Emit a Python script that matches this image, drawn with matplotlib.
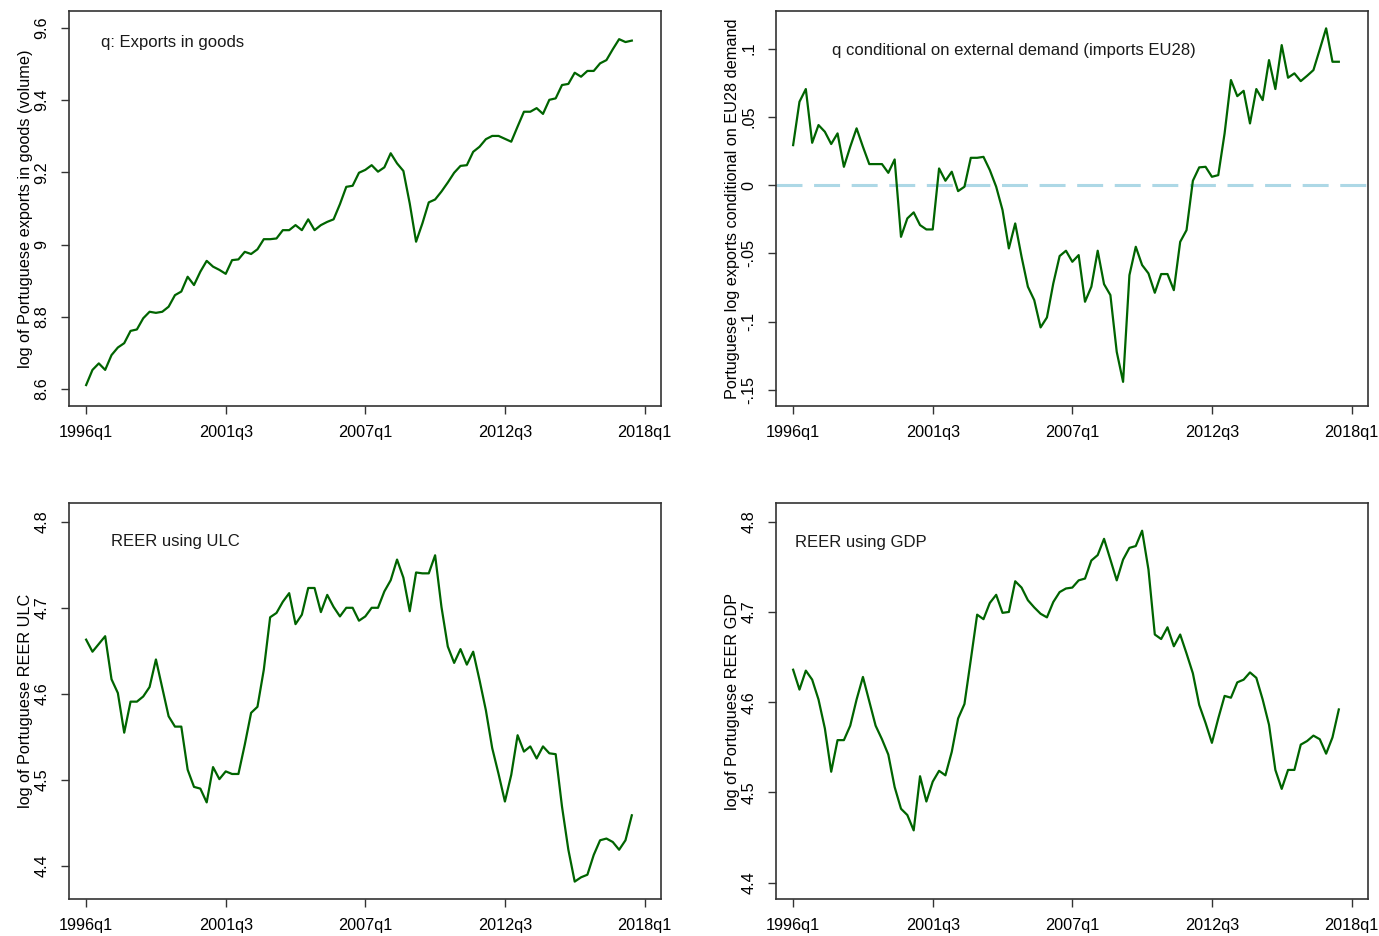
import numpy as np
import matplotlib
matplotlib.use("Agg")
import matplotlib.pyplot as plt
from matplotlib.ticker import FixedLocator, FuncFormatter

plt.rcParams["font.family"] = ["Liberation Sans", "DejaVu Sans"]

# ---- data: quarterly, 1996q1 .. 2017q3 ----
start_quarter = "1996q1"
xtick_labels = ["1996q1", "2001q3", "2007q1", "2012q3", "2018q1"]

exports_goods = [
    8.611, 8.653, 8.671, 8.653, 8.694, 8.715, 8.727, 8.761, 8.765, 8.796,
    8.814, 8.811, 8.814, 8.828, 8.860, 8.870, 8.911, 8.888, 8.925, 8.955,
    8.939, 8.930, 8.919, 8.957, 8.959, 8.980, 8.974, 8.987, 9.015, 9.015,
    9.017, 9.040, 9.040, 9.054, 9.040, 9.070, 9.040, 9.054, 9.063, 9.070,
    9.112, 9.160, 9.163, 9.199, 9.207, 9.220, 9.202, 9.214, 9.253, 9.225,
    9.204, 9.114, 9.008, 9.059, 9.117, 9.125, 9.147, 9.172, 9.199, 9.218,
    9.220, 9.257, 9.271, 9.292, 9.301, 9.301, 9.293, 9.285, 9.327, 9.368,
    9.368, 9.378, 9.362, 9.401, 9.405, 9.442, 9.445, 9.476, 9.465, 9.481,
    9.481, 9.502, 9.511, 9.541, 9.569, 9.561, 9.565,
]

exports_conditional = [
    0.0293, 0.0611, 0.0704, 0.0310, 0.0440, 0.0391, 0.0301, 0.0379, 0.0134, 0.0281,
    0.0416, 0.0281, 0.0154, 0.0154, 0.0154, 0.0090, 0.0188, -0.0379, -0.0244, -0.0200,
    -0.0293, -0.0325, -0.0325, 0.0122, 0.0032, 0.0098, -0.0044, -0.0012, 0.0200, 0.0200,
    0.0207, 0.0110, -0.0012, -0.0183, -0.0464, -0.0281, -0.0525, -0.0745, -0.0843, -0.1043,
    -0.0970, -0.0721, -0.0520, -0.0481, -0.0562, -0.0513, -0.0855, -0.0745, -0.0481, -0.0726,
    -0.0806, -0.1222, -0.1442, -0.0660, -0.0452, -0.0586, -0.0647, -0.0789, -0.0652, -0.0652,
    -0.0770, -0.0416, -0.0330, 0.0032, 0.0130, 0.0134, 0.0061, 0.0073, 0.0379, 0.0770,
    0.0652, 0.0691, 0.0452, 0.0704, 0.0623, 0.0916, 0.0704, 0.1026, 0.0787, 0.0819,
    0.0762, 0.0801, 0.0843, 0.0995, 0.1149, 0.0904, 0.0904,
]

reer_ulc = [
    4.663, 4.649, 4.658, 4.667, 4.617, 4.601, 4.555, 4.591, 4.591, 4.597,
    4.608, 4.640, 4.607, 4.574, 4.562, 4.562, 4.512, 4.492, 4.490, 4.474,
    4.515, 4.501, 4.510, 4.507, 4.507, 4.541, 4.578, 4.585, 4.628, 4.689,
    4.694, 4.707, 4.717, 4.681, 4.692, 4.723, 4.723, 4.695, 4.715, 4.701,
    4.690, 4.700, 4.700, 4.685, 4.690, 4.700, 4.700, 4.719, 4.732, 4.756,
    4.735, 4.696, 4.741, 4.740, 4.740, 4.761, 4.701, 4.655, 4.636, 4.652,
    4.634, 4.649, 4.616, 4.581, 4.537, 4.507, 4.475, 4.506, 4.552, 4.533,
    4.539, 4.525, 4.539, 4.531, 4.530, 4.469, 4.419, 4.382, 4.387, 4.390,
    4.413, 4.430, 4.432, 4.428, 4.419, 4.430, 4.459,
]

reer_gdp = [
    4.636, 4.614, 4.635, 4.625, 4.603, 4.571, 4.523, 4.558, 4.558, 4.574,
    4.603, 4.628, 4.601, 4.574, 4.559, 4.542, 4.506, 4.482, 4.475, 4.458,
    4.518, 4.490, 4.512, 4.524, 4.519, 4.545, 4.582, 4.598, 4.647, 4.697,
    4.692, 4.710, 4.719, 4.699, 4.700, 4.734, 4.727, 4.713, 4.705, 4.698,
    4.694, 4.711, 4.722, 4.726, 4.727, 4.735, 4.737, 4.757, 4.763, 4.781,
    4.758, 4.735, 4.758, 4.771, 4.773, 4.790, 4.747, 4.675, 4.670, 4.683,
    4.662, 4.675, 4.654, 4.632, 4.597, 4.577, 4.555, 4.582, 4.607, 4.605,
    4.622, 4.625, 4.633, 4.627, 4.603, 4.575, 4.525, 4.504, 4.525, 4.525,
    4.553, 4.557, 4.563, 4.559, 4.543, 4.561, 4.592,
]

ticks_exports = [8.6, 8.8, 9.0, 9.2, 9.4, 9.6]
ticks_conditional = [-0.15, -0.1, -0.05, 0.0, 0.05, 0.1]
ticks_reer = [4.4, 4.5, 4.6, 4.7, 4.8]


def quarter_number(label):
    year, q = label.split("q")
    return int(year) * 4 + int(q) - 1


def stata_number(v, _pos=None):
    s = f"{v:g}"
    if s.startswith("0.") and len(s) > 2:
        s = s[1:]
    elif s.startswith("-0."):
        s = "-" + s[2:]
    if s == "-0":
        s = "0"
    return s


base = quarter_number(start_quarter)
xtick_pos = [quarter_number(lbl) - base for lbl in xtick_labels]

W, H = 1379, 936
fig = plt.figure(figsize=(W / 100, H / 100), dpi=100)


def px_axes(left, top, right, bottom):
    return fig.add_axes([left / W, 1 - bottom / H, (right - left) / W, (bottom - top) / H])


LINE = "#006400"
FS = 11.7

panels = [
    dict(box=(69, 11, 661, 406), y=exports_goods, ylim=(8.553, 9.647), yticks=ticks_exports,
         ylabel="log of Portuguese exports in goods (volume)",
         note="q: Exports in goods", note_xy=(0.054, 0.919), zero=False),
    dict(box=(776, 11, 1368, 406), y=exports_conditional, ylim=(-0.1619, 0.1276), yticks=ticks_conditional,
         ylabel="Portuguese log exports conditional on EU28 demand",
         note="q conditional on external demand (imports EU28)", note_xy=(0.094, 0.901), zero=True),
    dict(box=(69, 503, 661, 899), y=reer_ulc, ylim=(4.3618, 4.8217), yticks=ticks_reer,
         ylabel="log of Portuguese REER ULC",
         note="REER using ULC", note_xy=(0.071, 0.904), zero=False),
    dict(box=(776, 503, 1368, 899), y=reer_gdp, ylim=(4.382, 4.8207), yticks=ticks_reer,
         ylabel="log of Portuguese REER GDP",
         note="REER using GDP", note_xy=(0.032, 0.899), zero=False),
]

for p in panels:
    ax = px_axes(*p["box"])
    values = np.asarray(p["y"])
    t = np.arange(len(values))
    if p["zero"]:
        ax.axhline(0, color="#add8e6", lw=2.2, linestyle=(0, (8.5, 3.8)), zorder=1)
    ax.plot(t, values, color=LINE, lw=1.6, zorder=2)

    ax.set_xlim(-2.7, 90.6)
    ax.set_ylim(*p["ylim"])
    ax.xaxis.set_major_locator(FixedLocator(xtick_pos))
    ax.set_xticklabels(xtick_labels)
    ax.yaxis.set_major_locator(FixedLocator(p["yticks"]))
    ax.yaxis.set_major_formatter(FuncFormatter(stata_number))

    ax.tick_params(axis="x", direction="out", length=6, width=1.0, color="#333333",
                   labelsize=FS, pad=8)
    ax.tick_params(axis="y", direction="out", length=6, width=1.0, color="#333333",
                   labelsize=FS, pad=8)
    for lab in ax.get_yticklabels():
        lab.set_rotation(90)
        lab.set_va("center")
        lab.set_ha("right")
    for sp in ax.spines.values():
        sp.set_color("#333333")
        sp.set_linewidth(1.2)

    ax.set_ylabel(p["ylabel"], fontsize=FS, labelpad=1)
    ax.text(p["note_xy"][0], p["note_xy"][1], p["note"], transform=ax.transAxes,
            fontsize=12, ha="left", va="center", color="#1a1a1a")

fig.savefig("out.png", dpi=100)
